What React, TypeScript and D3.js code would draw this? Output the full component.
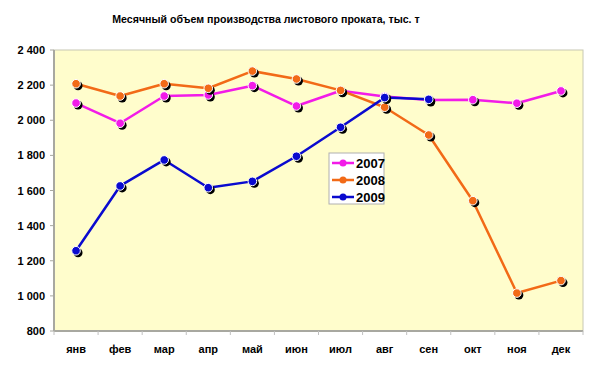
import React from 'react';
import * as d3 from 'd3';

// данные
const months = ['янв', 'фев', 'мар', 'апр', 'май', 'июн', 'июл', 'авг', 'сен', 'окт', 'ноя', 'дек'];
const y2007 = [2098, 1983, 2138, 2144, 2197, 2081, 2168, 2135, 2115, 2117, 2097, 2167];
const y2008 = [2208, 2138, 2208, 2182, 2280, 2235, 2170, 2074, 1916, 1542, 1016, 1087];
const y2009 = [1257, 1626, 1774, 1616, 1652, 1795, 1960, 2129, 2119];
const yTicks = [800, 1000, 1200, 1400, 1600, 1800, 2000, 2200, 2400];
const seriesNames = ['2007', '2008', '2009'];

const colors = ['#F21BE8', '#F26A17', '#0A0ACF'];
const font = '"Liberation Sans", Arial, sans-serif';

export default function App() {
	const width = 600;
	const height = 369;
	const margin = { left: 54, top: 50, right: 17, bottom: 38 };
	const x0 = margin.left;
	const x1 = width - margin.right;
	const yTop = margin.top;
	const yBot = height - margin.bottom;

	const x = d3.scaleBand().domain(months).range([x0, x1]).padding(0);
	const y = d3.scaleLinear().domain([800, 2400]).range([yBot, yTop]);
	const cx = (m: string) => (x(m) as number) + x.bandwidth() / 2;

	const line = d3.line<number>()
		.x((d, i) => cx(months[i]))
		.y(d => y(d));

	const allSeries = [y2007, y2008, y2009];
	const fmt = (v: number) => d3.format(',')(v).replace(',', ' ');

	// легенда
	const lg = { x: 329, y: 153, w: 55, h: 51 };

	return (
		<svg width={width} height={height} style={{ position: 'absolute', left: 0, top: 0, background: '#fff' }}
			fontFamily={font}>
			<text x={266} y={23} textAnchor="middle" fontSize={10.6} fontWeight="bold">
				Месячный объем производства листового проката, тыс. т
			</text>

			<rect x={x0} y={yTop} width={x1 - x0} height={yBot - yTop} fill="#FFFDCC" stroke="#C8C8B4" strokeWidth={1} />

			{/* ось Y */}
			<line x1={x0} x2={x0} y1={yTop} y2={yBot} stroke="#A8A8A0" strokeWidth={2} />
			{yTicks.map(t => (
				<g key={t}>
					<line x1={x0 - 4} x2={x0} y1={y(t)} y2={y(t)} stroke="#A8A8A0" />
					<text x={45} y={y(t) + 4} textAnchor="end" fontSize={11} fontWeight="bold">{fmt(t)}</text>
				</g>
			))}

			{/* ось X */}
			<line x1={x0} x2={x1} y1={yBot} y2={yBot} stroke="#A8A8A0" strokeWidth={2} />
			{months.map((m, i) => (
				<g key={m}>
					<line x1={(x(m) as number) + x.bandwidth()} x2={(x(m) as number) + x.bandwidth()} y1={yBot} y2={yBot + 4} stroke="#C0C0C0" />
					{i === 0 && <line x1={x0} x2={x0} y1={yBot} y2={yBot + 4} stroke="#C0C0C0" />}
					<text x={cx(m)} y={353} textAnchor="middle" fontSize={11} fontWeight="bold">{m}</text>
				</g>
			))}

			{/* линии */}
			{allSeries.map((s, k) => (
				<path key={k} d={line(s) as string} fill="none" stroke={colors[k]} strokeWidth={2.5} strokeLinejoin="round" />
			))}

			{/* маркеры */}
			{allSeries.map((s, k) => (
				<g key={k}>
					{s.map((v, i) => (
						<g key={i}>
							<circle cx={cx(months[i]) + 2} cy={y(v) + 2} r={4.5} fill="#000" />
							<circle cx={cx(months[i])} cy={y(v)} r={4.3} fill={colors[k]} stroke="#fff" strokeWidth={1} />
						</g>
					))}
				</g>
			))}

			{/* легенда */}
			<rect x={lg.x} y={lg.y} width={lg.w} height={lg.h} fill="#fff" stroke="#B0B0B0" />
			{seriesNames.map((n, k) => {
				const ly = lg.y + 10 + k * 17;
				return (
					<g key={n}>
						<line x1={lg.x + 3} x2={lg.x + 25} y1={ly} y2={ly} stroke={colors[k]} strokeWidth={2.5} />
						<circle cx={lg.x + 14} cy={ly} r={3.5} fill={colors[k]} />
						<text x={lg.x + 27} y={ly + 5} fontSize={13} fontWeight="bold">{n}</text>
					</g>
				);
			})}
		</svg>
	);
}
